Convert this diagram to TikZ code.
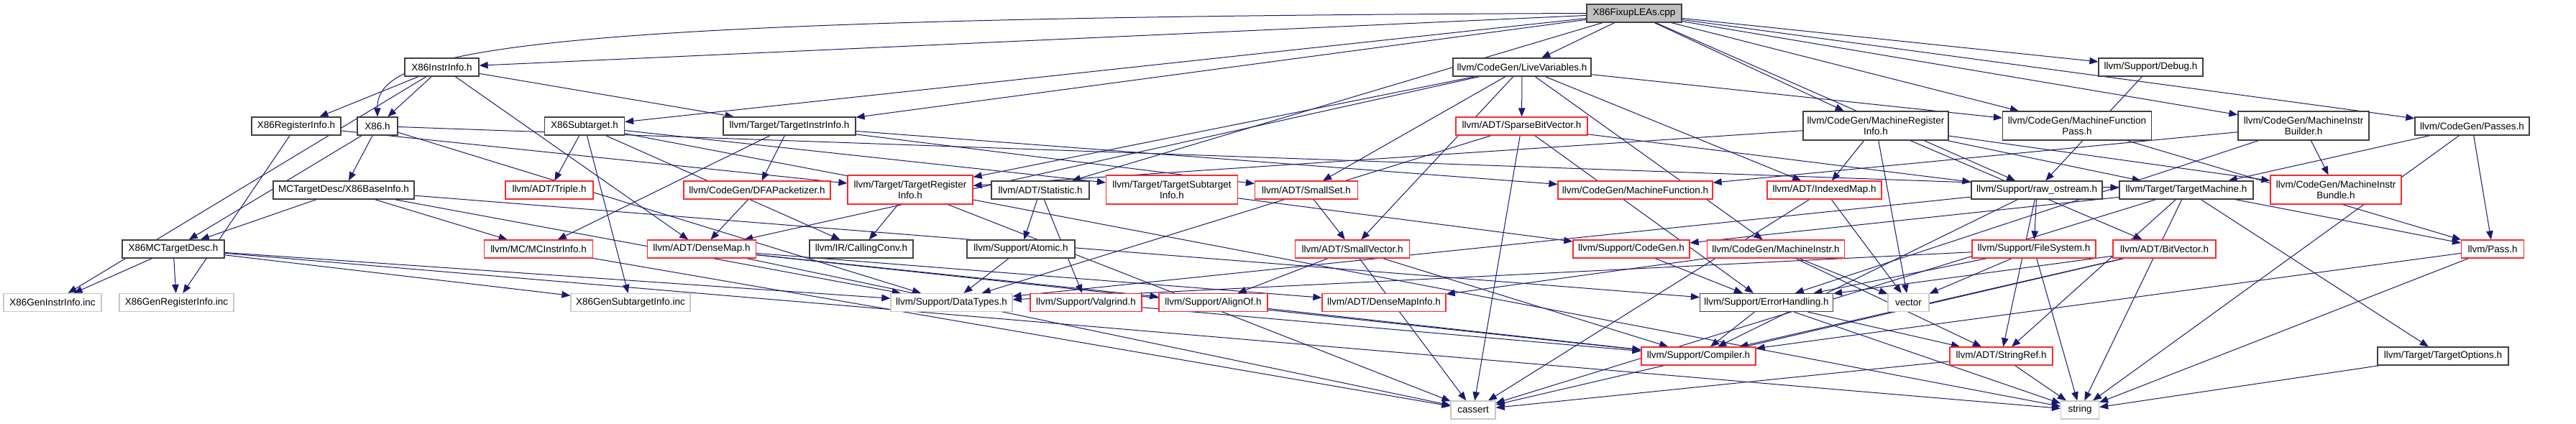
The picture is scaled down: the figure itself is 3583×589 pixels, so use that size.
\documentclass[tikz,border=0pt]{standalone}
\usepackage{fontspec}
\setmainfont{Liberation Sans}
\usepackage{tikz}
\usetikzlibrary{arrows.meta,backgrounds}
\definecolor{navy}{RGB}{25,25,112}
\definecolor{boxred}{RGB}{255,40,40}
\tikzset{every picture/.style={line width=0.75pt}}
\tikzset{
  hfile/.style={draw=black!75,fill=white,line width=1.25pt,minimum height=25pt,inner xsep=3pt,inner ysep=0pt,font=\fontsize{13.5}{15}\selectfont,align=center},
  srcfile/.style={hfile,fill=black!25},
  cutfile/.style={hfile,draw=boxred},
  sysfile/.style={hfile,draw=black!22},
  twoline/.style={minimum height=40pt},
  incl/.style={draw=navy,line width=1pt,-{Triangle[length=12pt,width=9.5pt]}}
}

\begin{document}
\begin{tikzpicture}[x=1pt,y=1pt,yscale=-1,xscale=1]
    \useasboundingbox (0,0) rectangle (3583,589);
    % row 0
    \node[srcfile,minimum width=132pt] (fixup) at (2273,18.5) {X86FixupLEAs.cpp};
    % row 1
    \node[hfile,minimum width=103pt] (instrinfo) at (614.5,93.5) {X86InstrInfo.h};
    \node[hfile,minimum width=192pt] (livevars) at (2117,93.5) {llvm/CodeGen/LiveVariables.h};
    \node[hfile,minimum width=145pt] (debug) at (2991.5,93.5) {llvm/Support/Debug.h};
    % row 2
    \node[hfile,minimum width=124pt] (reginfo) at (412,175.5) {X86RegisterInfo.h};
    \node[hfile,minimum width=56pt] (x86) at (525,175.5) {X86.h};
    \node[hfile,minimum width=111pt] (subtarget) at (813,175.5) {X86Subtarget.h};
    \node[hfile,minimum width=184pt] (tii) at (1098,175.5) {llvm/Target/TargetInstrInfo.h};
    \node[cutfile,minimum width=183pt] (sparse) at (2116.5,175.5) {llvm/ADT/SparseBitVector.h};
    \node[hfile,twoline,minimum width=202pt] (mri) at (2609,175) {llvm/CodeGen/MachineRegister\\Info.h};
    \node[hfile,twoline,minimum width=207pt] (mfp) at (2889,175) {llvm/CodeGen/MachineFunction\\Pass.h};
    \node[hfile,twoline,minimum width=182pt] (mib) at (3204,175) {llvm/CodeGen/MachineInstr\\Builder.h};
    \node[hfile,minimum width=159pt] (passes) at (3438.5,175.5) {llvm/CodeGen/Passes.h};
    % row 3
    \node[hfile,minimum width=196pt] (baseinfo) at (478,264.5) {MCTargetDesc/X86BaseInfo.h};
    \node[cutfile,minimum width=122pt] (triple) at (764,264.5) {llvm/ADT/Triple.h};
    \node[cutfile,minimum width=204pt] (dfa) at (1053,264.5) {llvm/CodeGen/DFAPacketizer.h};
    \node[cutfile,twoline,minimum width=174pt] (tri) at (1266,264) {llvm/Target/TargetRegister\\Info.h};
    \node[hfile,minimum width=136pt] (stat) at (1447,264.5) {llvm/ADT/Statistic.h};
    \node[cutfile,twoline,minimum width=183pt] (tsi) at (1630,264) {llvm/Target/TargetSubtarget\\Info.h};
    \node[cutfile,minimum width=143pt] (smallset) at (1817,264.5) {llvm/ADT/SmallSet.h};
    \node[cutfile,minimum width=215pt] (mf) at (2274.5,264.5) {llvm/CodeGen/MachineFunction.h};
    \node[cutfile,minimum width=159pt] (indexed) at (2537.5,264.5) {llvm/ADT/IndexedMap.h};
    \node[hfile,minimum width=182pt] (raw) at (2833,264.5) {llvm/Support/raw\_ostream.h};
    \node[hfile,minimum width=186pt] (tm) at (3041,264.5) {llvm/Target/TargetMachine.h};
    \node[cutfile,twoline,minimum width=182pt] (bundle) at (3249,264) {llvm/CodeGen/MachineInstr\\Bundle.h};
    % row 4
    \node[hfile,minimum width=142pt] (mcdesc) at (241,346.5) {X86MCTargetDesc.h};
    \node[cutfile,minimum width=151pt] (mcinstr) at (749,346.5) {llvm/MC/MCInstrInfo.h};
    \node[cutfile,minimum width=151pt] (densemap) at (976,346.5) {llvm/ADT/DenseMap.h};
    \node[hfile,minimum width=144pt] (callconv) at (1198,346.5) {llvm/IR/CallingConv.h};
    \node[hfile,minimum width=150pt] (atomic) at (1420,346.5) {llvm/Support/Atomic.h};
    \node[cutfile,minimum width=159pt] (smallvec) at (1881,346.5) {llvm/ADT/SmallVector.h};
    \node[cutfile,minimum width=162pt] (codegen) at (2269,346.5) {llvm/Support/CodeGen.h};
    \node[cutfile,minimum width=191pt] (minstr) at (2470,346.5) {llvm/CodeGen/MachineInstr.h};
    \node[cutfile,minimum width=172pt] (filesys) at (2829,346.5) {llvm/Support/FileSystem.h};
    \node[cutfile,minimum width=143pt] (bitvec) at (3010.5,346.5) {llvm/ADT/BitVector.h};
    \node[cutfile,minimum width=87pt] (pass) at (3467,346.5) {llvm/Pass.h};
    % row 5
    \node[sysfile,minimum width=136pt] (geninstr) at (73,421) {X86GenInstrInfo.inc};
    \node[sysfile,minimum width=159pt] (genreg) at (245.5,421) {X86GenRegisterInfo.inc};
    \node[sysfile,minimum width=166pt] (gensub) at (877,421) {X86GenSubtargetInfo.inc};
    \node[sysfile,minimum width=169pt] (datatypes) at (1323.5,421) {llvm/Support/DataTypes.h};
    \node[cutfile,minimum width=155pt] (valgrind) at (1510.5,421) {llvm/Support/Valgrind.h};
    \node[cutfile,minimum width=151pt] (alignof) at (1687.5,421) {llvm/Support/AlignOf.h};
    \node[cutfile,minimum width=172pt] (dminfo) at (1925,421) {llvm/ADT/DenseMapInfo.h};
    \node[hfile,minimum width=185pt] (errh) at (2457,421) {llvm/Support/ErrorHandling.h};
    \node[sysfile,minimum width=57pt] (vector) at (2654.5,421) {vector};
    % row 6
    \node[cutfile,minimum width=159pt] (compiler) at (2362.5,495.5) {llvm/Support/Compiler.h};
    \node[cutfile,minimum width=143pt] (stringref) at (2783.5,495.5) {llvm/ADT/StringRef.h};
    \node[hfile,minimum width=182pt] (topts) at (3398,495.5) {llvm/Target/TargetOptions.h};
    % row 7
    \node[sysfile,minimum width=62pt] (cassert) at (2049,570.5) {cassert};
    \node[sysfile,minimum width=53pt] (string) at (2893,570.5) {string};

    \begin{scope}[on background layer]
    % X86FixupLEAs.cpp
    \draw[incl] (fixup) -- (instrinfo);
    \draw[incl] (fixup.west) .. controls (700,24) and (524,70) .. (x86.north);
    \draw[incl] (fixup) -- (subtarget);
    \draw[incl] (fixup) -- (tii);
    \draw[incl] (fixup) -- (stat);
    \draw[incl] (fixup) -- (livevars);
    \draw[incl] (fixup) -- (mri);
    \draw[incl] (fixup) -- (debug);
    \draw[incl] (fixup) -- (mfp);
    \draw[incl] (fixup) -- (raw);
    \draw[incl] (fixup) -- (mib);
    \draw[incl] (fixup) -- (passes);
    % X86InstrInfo.h
    \draw[incl] (instrinfo) -- (reginfo);
    \draw[incl] (instrinfo) -- (x86);
    \draw[incl] (instrinfo) -- (geninstr);
    \draw[incl] (instrinfo) -- (tii);
    \draw[incl] (instrinfo) -- (densemap);
    % X86.h
    \draw[incl] (x86) -- (baseinfo);
    \draw[incl] (x86) -- (mcdesc);
    \draw[incl] (x86) -- (datatypes);
    \draw[incl] (x86) -- (tm);
    % X86RegisterInfo.h
    \draw[incl] (reginfo) -- (tri);
    \draw[incl] (reginfo) -- (genreg);
    % X86Subtarget.h
    \draw[incl] (subtarget) -- (gensub);
    \draw[incl] (subtarget) -- (triple);
    \draw[incl] (subtarget) -- (callconv);
    \draw[incl] (subtarget) -- (tsi);
    \draw[incl] (subtarget) -- (string);
    % TargetInstrInfo.h
    \draw[incl] (tii) -- (mcinstr);
    \draw[incl] (tii) -- (dfa);
    \draw[incl] (tii) -- (smallset);
    \draw[incl] (tii) -- (mf);
    % LiveVariables.h
    \draw[incl] (livevars) -- (tri);
    \draw[incl] (livevars) -- (smallset);
    \draw[incl] (livevars) -- (smallvec);
    \draw[incl] (livevars) -- (densemap);
    \draw[incl] (livevars) -- (sparse);
    \draw[incl] (livevars) -- (minstr);
    \draw[incl] (livevars) -- (mfp);
    \draw[incl] (livevars) -- (indexed);
    % MachineRegisterInfo.h
    \draw[incl] (mri) -- (tri);
    \draw[incl] (mri) -- (indexed);
    \draw[incl] (mri) -- (bitvec);
    \draw[incl] (mri) -- (tm);
    \draw[incl] (mri) -- (bundle);
    \draw[incl] (mri) -- (vector);
    % second row, others
    \draw[incl] (mfp) -- (pass);
    \draw[incl] (mib) -- (mf);
    \draw[incl] (mib) -- (bundle);
    \draw[incl] (mib) -- (errh);
    \draw[incl] (passes) -- (tm);
    \draw[incl] (passes) -- (pass);
    \draw[incl] (passes) -- (string);
    \draw[incl] (debug) -- (raw);
    \draw[incl] (sparse) -- (raw);
    \draw[incl] (sparse) -- (datatypes);
    \draw[incl] (sparse) -- (errh);
    \draw[incl] (sparse) -- (cassert);
    % third row
    \draw[incl] (baseinfo) -- (mcdesc);
    \draw[incl] (baseinfo) -- (mcinstr);
    \draw[incl] (baseinfo) -- (datatypes);
    \draw[incl] (baseinfo) -- (errh);
    \draw[incl] (dfa) -- (densemap);
    \draw[incl] (tri) -- (callconv);
    \draw[incl] (tri) -- (cassert);
    \draw[incl] (stat) -- (atomic);
    \draw[incl] (stat) -- (valgrind);
    \draw[incl] (tsi) -- (codegen);
    \draw[incl] (smallset) -- (smallvec);
    \draw[incl] (indexed) -- (vector);
    \draw[incl] (indexed) -- (cassert);
    \draw[incl] (raw) -- (datatypes);
    \draw[incl] (raw) -- (filesys);
    \draw[incl] (raw) -- (compiler);
    \draw[incl] (raw) -- (stringref);
    \draw[incl] (tm) -- (codegen);
    \draw[incl] (tm) -- (pass);
    \draw[incl] (tm) -- (topts);
    \draw[incl] (tm) -- (stringref);
    \draw[incl] (tm) -- (cassert);
    \draw[incl] (tm) -- (string);
    % fourth row
    \draw[incl] (mcdesc) -- (geninstr);
    \draw[incl] (mcdesc) -- (genreg);
    \draw[incl] (mcdesc) -- (gensub);
    \draw[incl] (mcdesc) -- (datatypes);
    \draw[incl] (mcdesc) -- (string);
    \draw[incl] (mcinstr) -- (cassert);
    \draw[incl] (densemap) -- (dminfo);
    \draw[incl] (densemap) -- (alignof);
    \draw[incl] (densemap) -- (compiler);
    \draw[incl] (densemap) -- (cassert);
    \draw[incl] (atomic) -- (datatypes);
    \draw[incl] (smallvec) -- (alignof);
    \draw[incl] (smallvec) -- (compiler);
    \draw[incl] (smallvec) -- (cassert);
    \draw[incl] (codegen) -- (errh);
    \draw[incl] (minstr) -- (dminfo);
    \draw[incl] (minstr) -- (vector);
    \draw[incl] (minstr) -- (stringref);
    \draw[incl] (filesys) -- (datatypes);
    \draw[incl] (filesys) -- (errh);
    \draw[incl] (filesys) -- (vector);
    \draw[incl] (filesys) -- (string);
    \draw[incl] (bitvec) -- (errh);
    \draw[incl] (bitvec) -- (compiler);
    \draw[incl] (bitvec) -- (cassert);
    \draw[incl] (pass) -- (compiler);
    \draw[incl] (pass) -- (string);
    % fifth row and below
    \draw[incl] (valgrind) -- (compiler);
    \draw[incl] (alignof) -- (compiler);
    \draw[incl] (errh) -- (compiler);
    \draw[incl] (errh) -- (stringref);
    \draw[incl] (errh) -- (string);
    \draw[incl] (stringref) -- (cassert);
    \draw[incl] (stringref) -- (string);
    \draw[incl] (topts) -- (string);
    \end{scope}
\end{tikzpicture}
\end{document}
